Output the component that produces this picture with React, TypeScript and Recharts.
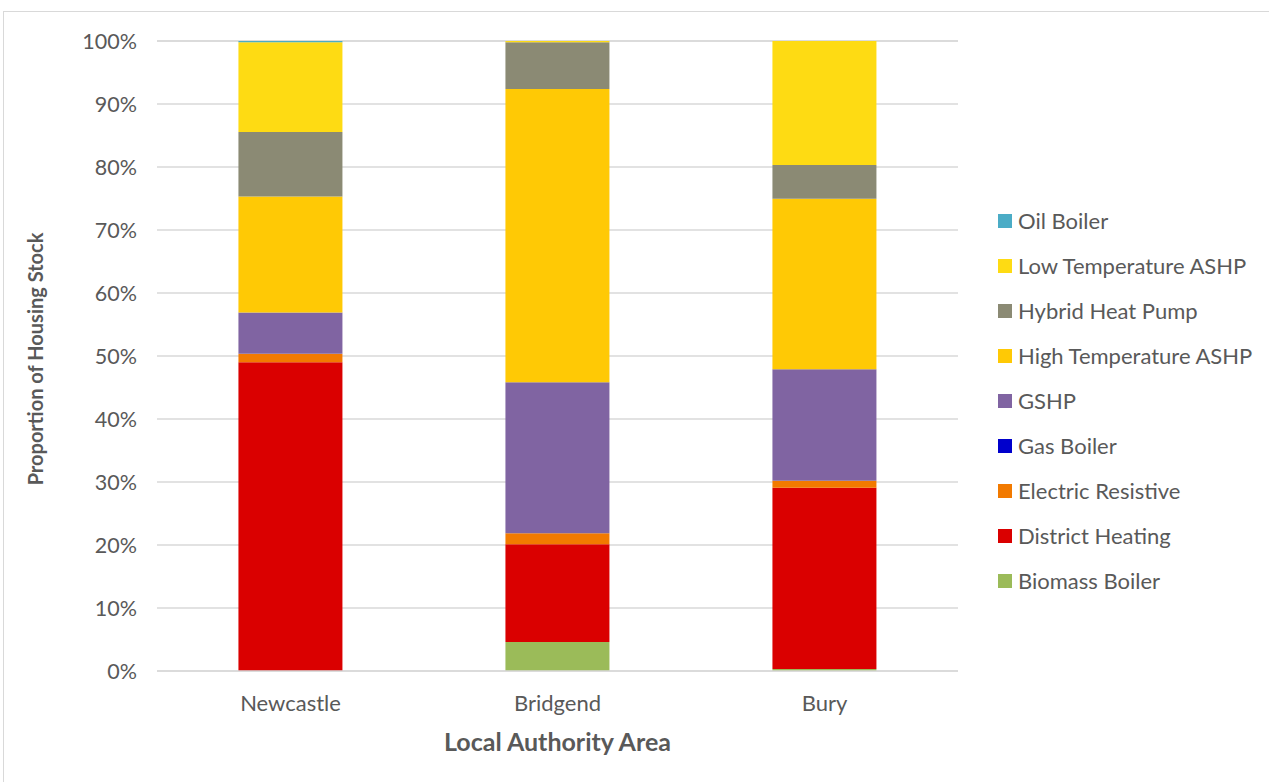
import { BarChart, Bar, XAxis, YAxis, CartesianGrid, Label } from "recharts";

const areas = ["Newcastle", "Bridgend", "Bury"];

// shares of housing stock, %, bottom of the stack first
const biomassBoiler = [0, 4.6, 0.3];
const districtHeating = [49.0, 15.5, 28.8];
const electricResistive = [1.35, 1.75, 1.1];
const gasBoiler = [0, 0, 0];
const gshp = [6.55, 24.0, 17.7];
const highTempAshp = [18.4, 46.55, 27.05];
const hybridHeatPump = [10.25, 7.4, 5.35];
const lowTempAshp = [14.25, 0.2, 19.7];
const oilBoiler = [0.2, 0, 0];

const yTicks = [0, 10, 20, 30, 40, 50, 60, 70, 80, 90, 100];

const series = [
  { key: "biomass", name: "Biomass Boiler", values: biomassBoiler, color: "#9BBB59" },
  { key: "district", name: "District Heating", values: districtHeating, color: "#DA0000" },
  { key: "electric", name: "Electric Resistive", values: electricResistive, color: "#F27A00" },
  { key: "gas", name: "Gas Boiler", values: gasBoiler, color: "#0000CC" },
  { key: "gshp", name: "GSHP", values: gshp, color: "#8064A2" },
  { key: "highTemp", name: "High Temperature ASHP", values: highTempAshp, color: "#FFC905" },
  { key: "hybrid", name: "Hybrid Heat Pump", values: hybridHeatPump, color: "#8B8A74" },
  { key: "lowTemp", name: "Low Temperature ASHP", values: lowTempAshp, color: "#FEDB13" },
  { key: "oil", name: "Oil Boiler", values: oilBoiler, color: "#4BACC6" },
];

const data = areas.map((area, i) => {
  const row: Record<string, string | number> = { area };
  series.forEach((s) => {
    row[s.key] = s.values[i];
  });
  return row;
});

const font = "Lato, 'Open Sans', sans-serif";
const textColor = "#595959";

function LegendBox() {
  const items = [...series].reverse();
  return (
    <div style={{ position: "absolute", left: 998, top: 198, fontFamily: font, fontSize: 22, color: textColor }}>
      {items.map((s) => (
        <div key={s.key} style={{ display: "flex", alignItems: "center", height: 45 }}>
          <span style={{ width: 14, height: 14, background: s.color, marginRight: 6, display: "inline-block" }} />
          <span>{s.name}</span>
        </div>
      ))}
    </div>
  );
}

export default function App() {
  return (
    <div style={{ position: "absolute", left: 0, top: 0, width: 1269, height: 782, background: "#fff", overflow: "hidden" }}>
      <div
        style={{
          position: "absolute",
          left: 3,
          top: 11,
          width: 1300,
          height: 800,
          borderLeft: "1px solid #D9D9D9",
          borderTop: "1px solid #D9D9D9",
        }}
      />
      <div style={{ position: "absolute", left: 0, top: 0 }}>
        <BarChart
          width={1269}
          height={782}
          data={data}
          margin={{ top: 41, right: 311, bottom: 0, left: 0 }}
          barCategoryGap="30.5%"
        >
          <CartesianGrid vertical={false} stroke="#D9D9D9" strokeWidth={1.5} />
          <XAxis
            dataKey="area"
            height={111}
            tickLine={false}
            axisLine={{ stroke: "#D9D9D9", strokeWidth: 1.5 }}
            tick={{ fill: textColor, fontSize: 22, fontFamily: font }}
            tickMargin={18}
          >
            <Label
              value="Local Authority Area"
              position="insideBottom"
              offset={31}
              style={{ fill: textColor, fontSize: 25, fontWeight: 700, fontFamily: font }}
            />
          </XAxis>
          <YAxis
            width={157}
            domain={[0, 100]}
            ticks={yTicks}
            tickFormatter={(v: number) => `${v}%`}
            tickLine={false}
            axisLine={false}
            tick={{ fill: textColor, fontSize: 21.5, fontFamily: font }}
            tickMargin={14}
          >
            <Label
              value="Proportion of Housing Stock"
              angle={-90}
              position="insideLeft"
              offset={36}
              dy={3}
              style={{ fill: textColor, fontSize: 20, fontWeight: 700, fontFamily: font, textAnchor: "middle" }}
            />
          </YAxis>
          {series.map((s) => (
            <Bar
              key={s.key}
              dataKey={s.key}
              name={s.name}
              stackId="stock"
              fill={s.color}
              isAnimationActive={false}
            />
          ))}
        </BarChart>
      </div>
      <LegendBox />
    </div>
  );
}
